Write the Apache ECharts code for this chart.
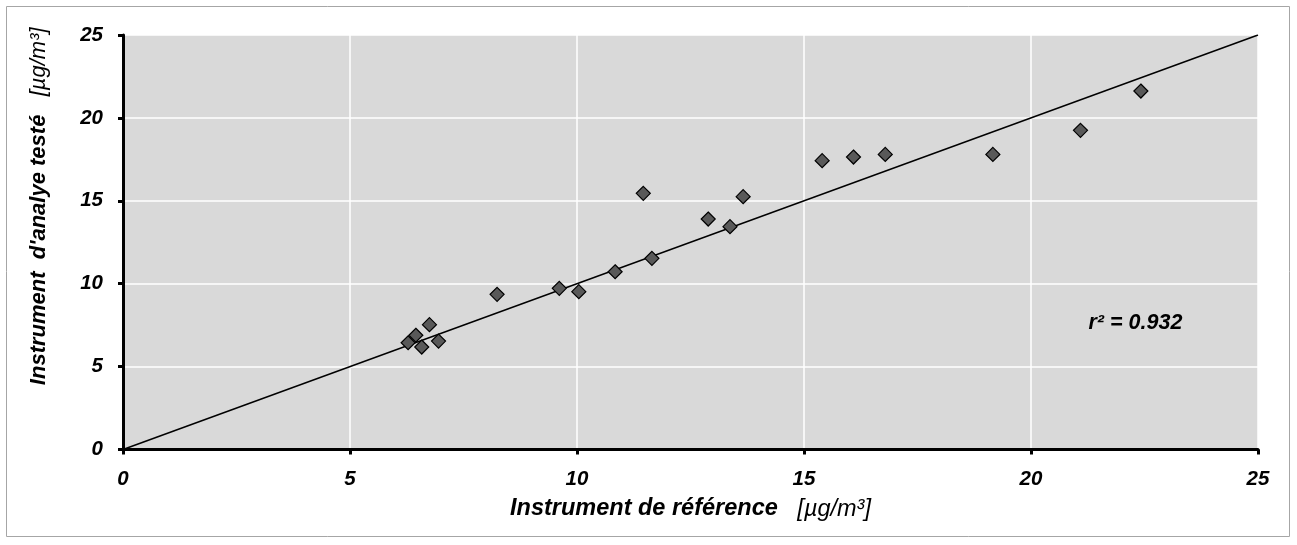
<!DOCTYPE html>
<html>
<head>
<meta charset="utf-8">
<script src="https://cdn.jsdelivr.net/npm/echarts@6/dist/echarts.min.js"></script>
<style>
html,body{margin:0;padding:0;background:#fff;}
#c{width:1297px;height:545px;}
</style>
</head>
<body>
<div id="c"></div>
<script>
// Reference instrument values (x) and tested instrument values (y), µg/m³
const refValues  = [6.28, 6.45, 6.58, 6.75, 6.95, 8.24, 9.61, 10.04, 10.84, 11.65, 11.46, 12.89, 13.37, 13.66, 15.40, 16.09, 16.79, 19.16, 21.09, 22.42];
const testValues = [6.44, 6.89, 6.18, 7.53, 6.54, 9.36, 9.72, 9.52, 10.72, 11.53, 15.45, 13.90, 13.44, 15.25, 17.42, 17.64, 17.80, 17.80, 19.25, 21.62];
// 1:1 line endpoints
const lineX = [0, 25];
const lineY = [0, 25];
const xTicks = [0, 5, 10, 15, 20, 25];
const yTicks = [0, 5, 10, 15, 20, 25];
const r2Text = 'r² = 0.932';
const r2Pos = [22.3, 7.63];

const FONT = '"Liberation Sans", Arial, sans-serif';
const chart = echarts.init(document.getElementById('c'), null, {renderer: 'canvas'});

const axisCommon = {
  type: 'value',
  min: 0, max: 25, interval: 5,
  axisLine: {show: true, onZero: false, lineStyle: {color: '#000', width: 3}},
  axisTick: {show: true, inside: false, length: 5, lineStyle: {color: '#000', width: 3}},
  splitLine: {show: true, lineStyle: {color: '#ffffff', width: 1.5}},
  axisLabel: {color: '#000', fontFamily: FONT, fontSize: 20.5, fontWeight: 'bold', fontStyle: 'italic'}
};
function richTitle(size) {
  return {
    b: {fontFamily: FONT, fontSize: size, fontWeight: 'bold', fontStyle: 'italic', color: '#000'},
    n: {fontFamily: FONT, fontSize: size, fontWeight: 'normal', fontStyle: 'italic', color: '#000'}
  };
}

const option = {
  animation: false,
  backgroundColor: '#fff',
  grid: {left: 123, right: 39, top: 35, bottom: 95.5, show: true, backgroundColor: '#d9d9d9', borderWidth: 0},
  xAxis: Object.assign({}, axisCommon, {
    position: 'bottom',
    axisLabel: Object.assign({}, axisCommon.axisLabel, {margin: 20, formatter: v => xTicks.includes(v) ? String(v) : ''}),
    name: '{b|Instrument de référence}{n|   [µg/m³]}',
    nameLocation: 'middle',
    nameGap: 48,
    nameTextStyle: {rich: richTitle(23.5)}
  }),
  yAxis: Object.assign({}, axisCommon, {
    position: 'left',
    axisLabel: Object.assign({}, axisCommon.axisLabel, {margin: 20, formatter: v => yTicks.includes(v) ? String(v) : ''}),
    name: '{b|Instrument  d\'analye testé}{n|   [µg/m³]}',
    nameLocation: 'middle',
    nameGap: 73,
    nameTextStyle: {rich: richTitle(22), padding: [0, 0, 0, 72]}
  }),
  series: [
    {
      type: 'line',
      data: lineX.map((x, i) => [x, lineY[i]]),
      showSymbol: false,
      symbol: 'none',
      lineStyle: {color: '#000', width: 1.5},
      z: 2
    },
    {
      type: 'scatter',
      data: refValues.map((x, i) => [x, testValues[i]]),
      symbol: 'diamond',
      symbolSize: [14, 14],
      itemStyle: {color: '#595959', borderColor: '#000', borderWidth: 1.2, opacity: 1},
      z: 3
    }
  ]
};
chart.setOption(option);

const p = chart.convertToPixel({gridIndex: 0}, r2Pos);
chart.setOption({
  graphic: [
    {
      type: 'rect',
      shape: {x: 6.5, y: 6.5, width: 1283, height: 530},
      style: {fill: 'none', stroke: '#a6a6a6', lineWidth: 1},
      silent: true, z: -10
    },
    {
      type: 'text',
      x: p[0], y: p[1],
      style: {text: r2Text, fontFamily: FONT, fontSize: 21.5, fontWeight: 'bold', fontStyle: 'italic', fill: '#000', align: 'center', verticalAlign: 'middle'},
      z: 10
    }
  ]
});
</script>
</body>
</html>
